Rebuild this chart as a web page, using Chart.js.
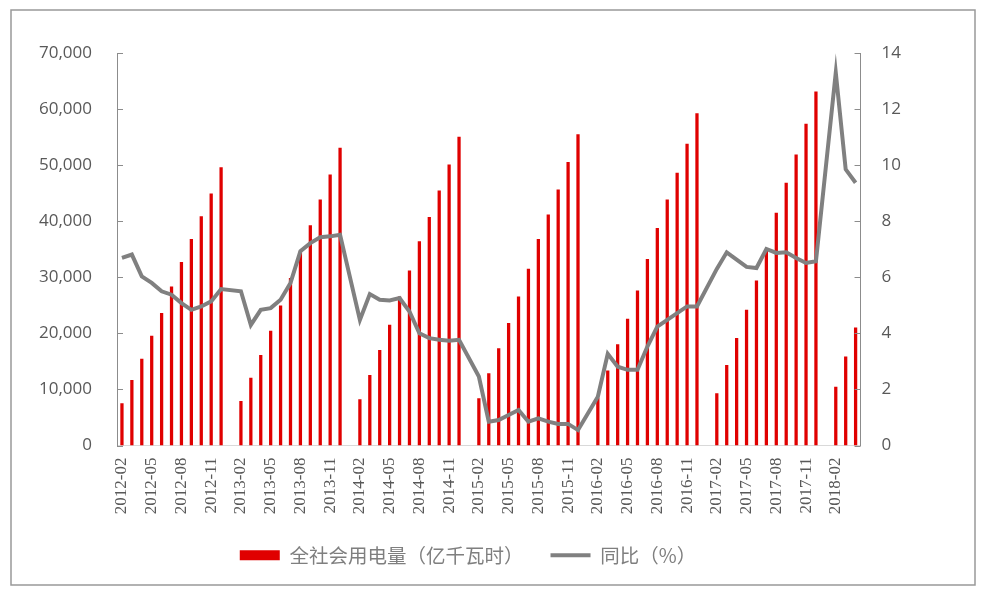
<!DOCTYPE html>
<html>
<head>
<meta charset="utf-8">
<title>全社会用电量</title>
<script src="https://cdn.jsdelivr.net/npm/chart.js@4.4.1/dist/chart.umd.min.js"></script>
<style>
  html, body { margin: 0; padding: 0; background: #fff; }
  #wrap { width: 984px; height: 596px; position: relative; }
</style>
</head>
<body>
<div id="wrap"><canvas id="powerChart"></canvas></div>
<script>
// months, Jan is empty (Jan-Feb reported together)
const months = [
    '2012-02', '2012-03', '2012-04', '2012-05', '2012-06', '2012-07', '2012-08', '2012-09', '2012-10', '2012-11', '2012-12',
    '2013-01', '2013-02', '2013-03', '2013-04', '2013-05', '2013-06', '2013-07', '2013-08', '2013-09', '2013-10', '2013-11', '2013-12',
    '2014-01', '2014-02', '2014-03', '2014-04', '2014-05', '2014-06', '2014-07', '2014-08', '2014-09', '2014-10', '2014-11', '2014-12',
    '2015-01', '2015-02', '2015-03', '2015-04', '2015-05', '2015-06', '2015-07', '2015-08', '2015-09', '2015-10', '2015-11', '2015-12',
    '2016-01', '2016-02', '2016-03', '2016-04', '2016-05', '2016-06', '2016-07', '2016-08', '2016-09', '2016-10', '2016-11', '2016-12',
    '2017-01', '2017-02', '2017-03', '2017-04', '2017-05', '2017-06', '2017-07', '2017-08', '2017-09', '2017-10', '2017-11', '2017-12',
    '2018-01', '2018-02', '2018-03', '2018-04'
];

// 全社会用电量, cumulative, 亿千瓦时
const consumption = [
    7530, 11690, 15450, 19560, 23610, 28370, 32730, 36840, 40880, 44940, 49640,
    null, 7940, 12100, 16160, 20450, 24970, 29870, 34630, 39280, 43870, 48340, 53110,
    null, 8240, 12580, 17050, 21520, 26580, 31230, 36410, 40770, 45480, 50130, 55080,
    null, 8420, 12890, 17360, 21830, 26590, 31530, 36840, 41190, 45660, 50540, 55490,
    null, 8530, 13360, 18070, 22600, 27660, 33270, 38810, 43870, 48640, 53830, 59240,
    null, 9310, 14370, 19150, 24200, 29440, 34900, 41490, 46850, 51910, 57400, 63120,
    null, 10490, 15860, 21040
];

// 同比, %
const yoy = [
    6.69, 6.81, 6.03, 5.8, 5.5, 5.38, 5.08, 4.84, 4.96, 5.14, 5.58,
    null, 5.5, 4.3, 4.84, 4.9, 5.2, 5.8, 6.93, 7.22, 7.43, 7.46, 7.52,
    null, 4.48, 5.4, 5.2, 5.17, 5.26, 4.78, 4.0, 3.83, 3.77, 3.74, 3.77,
    null, 2.46, 0.85, 0.91, 1.09, 1.27, 0.85, 0.97, 0.85, 0.77, 0.77, 0.55,
    null, 1.74, 3.27, 2.81, 2.7, 2.7, 3.53, 4.24, 4.48, 4.72, 4.96, 4.96,
    null, 6.3, 6.89, 6.63, 6.37, 6.33, 7.01, 6.87, 6.89, 6.69, 6.51, 6.57,
    null, 13.3, 9.85, 9.37
];

const barColor = '#e00000';
const lineColor = '#808080';
const axisColor = '#8c8c8c';
const textColor = '#595959';

// outer frame + inward tick marks on both value axes
const framePlugin = {
    id: 'frame',
    beforeDraw(chart) {
        const ctx = chart.ctx;
        ctx.save();
        ctx.fillStyle = '#fff';
        ctx.fillRect(0, 0, chart.width, chart.height);
        ctx.strokeStyle = '#999';
        ctx.lineWidth = 1.5;
        ctx.strokeRect(11, 10, 964, 575);
        ctx.restore();
    },
    afterDraw(chart) {
        const ctx = chart.ctx;
        ctx.save();
        ctx.strokeStyle = axisColor;
        ctx.lineWidth = 1;
        const yl = chart.scales.y;
        yl.ticks.forEach(t => {
            const py = Math.round(yl.getPixelForValue(t.value)) + 0.5;
            ctx.beginPath();
            ctx.moveTo(yl.right, py);
            ctx.lineTo(yl.right + 6, py);
            ctx.stroke();
        });
        const yr = chart.scales.y1;
        yr.ticks.forEach(t => {
            const py = Math.round(yr.getPixelForValue(t.value)) + 0.5;
            ctx.beginPath();
            ctx.moveTo(yr.left, py);
            ctx.lineTo(yr.left - 6, py);
            ctx.stroke();
        });
        ctx.restore();
    }
};

const powerChart = new Chart(document.getElementById('powerChart').getContext('2d'), {
    type: 'bar',
    data: {
        labels: months,
        datasets: [{
            label: '全社会用电量（亿千瓦时）',
            data: consumption,
            backgroundColor: barColor,
            barPercentage: 0.33,
            categoryPercentage: 1,
            yAxisID: 'y',
            order: 2
        }, {
            type: 'line',
            label: '同比（%）',
            data: yoy,
            borderColor: lineColor,
            backgroundColor: lineColor,
            borderWidth: 4,
            pointRadius: 0,
            tension: 0,
            spanGaps: true,
            fill: false,
            yAxisID: 'y1',
            order: 1
        }]
    },
    options: {
        responsive: true,
        maintainAspectRatio: false,
        animation: false,
        layout: {
            padding: { top: 53, left: 14, right: 62, bottom: 21 }
        },
        plugins: {
            tooltip: { enabled: false },
            legend: {
                position: 'bottom',
                labels: {
                    usePointStyle: true,
                    pointStyleWidth: 40,
                    boxHeight: 10,
                    padding: 27,
                    color: '#7f7f7f',
                    font: { family: '"Noto Sans CJK SC", sans-serif', size: 19.5 },
                    generateLabels(chart) {
                        const items = Chart.defaults.plugins.legend.labels.generateLabels(chart);
                        items.sort((a, b) => a.datasetIndex - b.datasetIndex);
                        items.forEach(it => {
                            if (it.datasetIndex === 0) {
                                it.pointStyle = 'rect';
                                it.lineWidth = 0;
                            } else {
                                it.pointStyle = 'line';
                                it.lineWidth = 4;
                                it.strokeStyle = lineColor;
                            }
                        });
                        return items;
                    }
                }
            }
        },
        scales: {
            x: {
                grid: { display: false, drawTicks: false },
                border: { display: true, color: '#d9d9d9' },
                afterFit(scale) {
                    scale.height = 73;
                },
                ticks: {
                    autoSkip: false,
                    minRotation: 90,
                    maxRotation: 90,
                    padding: 12,
                    color: textColor,
                    font: { family: '"Liberation Serif", serif', size: 17 },
                    callback(value, index) {
                        return index % 3 === 0 ? this.getLabelForValue(value) : '';
                    }
                }
            },
            y: {
                position: 'left',
                min: 0,
                max: 70000,
                grid: { display: false, drawTicks: false },
                border: { display: true, color: axisColor },
                ticks: {
                    stepSize: 10000,
                    padding: 25,
                    color: textColor,
                    font: { family: '"Open Sans", sans-serif', size: 17 },
                    callback: v => v.toLocaleString('en-US')
                }
            },
            y1: {
                position: 'right',
                min: 0,
                max: 14,
                grid: { display: false, drawTicks: false },
                border: { display: true, color: axisColor },
                ticks: {
                    stepSize: 2,
                    padding: 21,
                    color: textColor,
                    font: { family: '"Open Sans", sans-serif', size: 17 }
                }
            }
        }
    },
    plugins: [framePlugin]
});
</script>
</body>
</html>
